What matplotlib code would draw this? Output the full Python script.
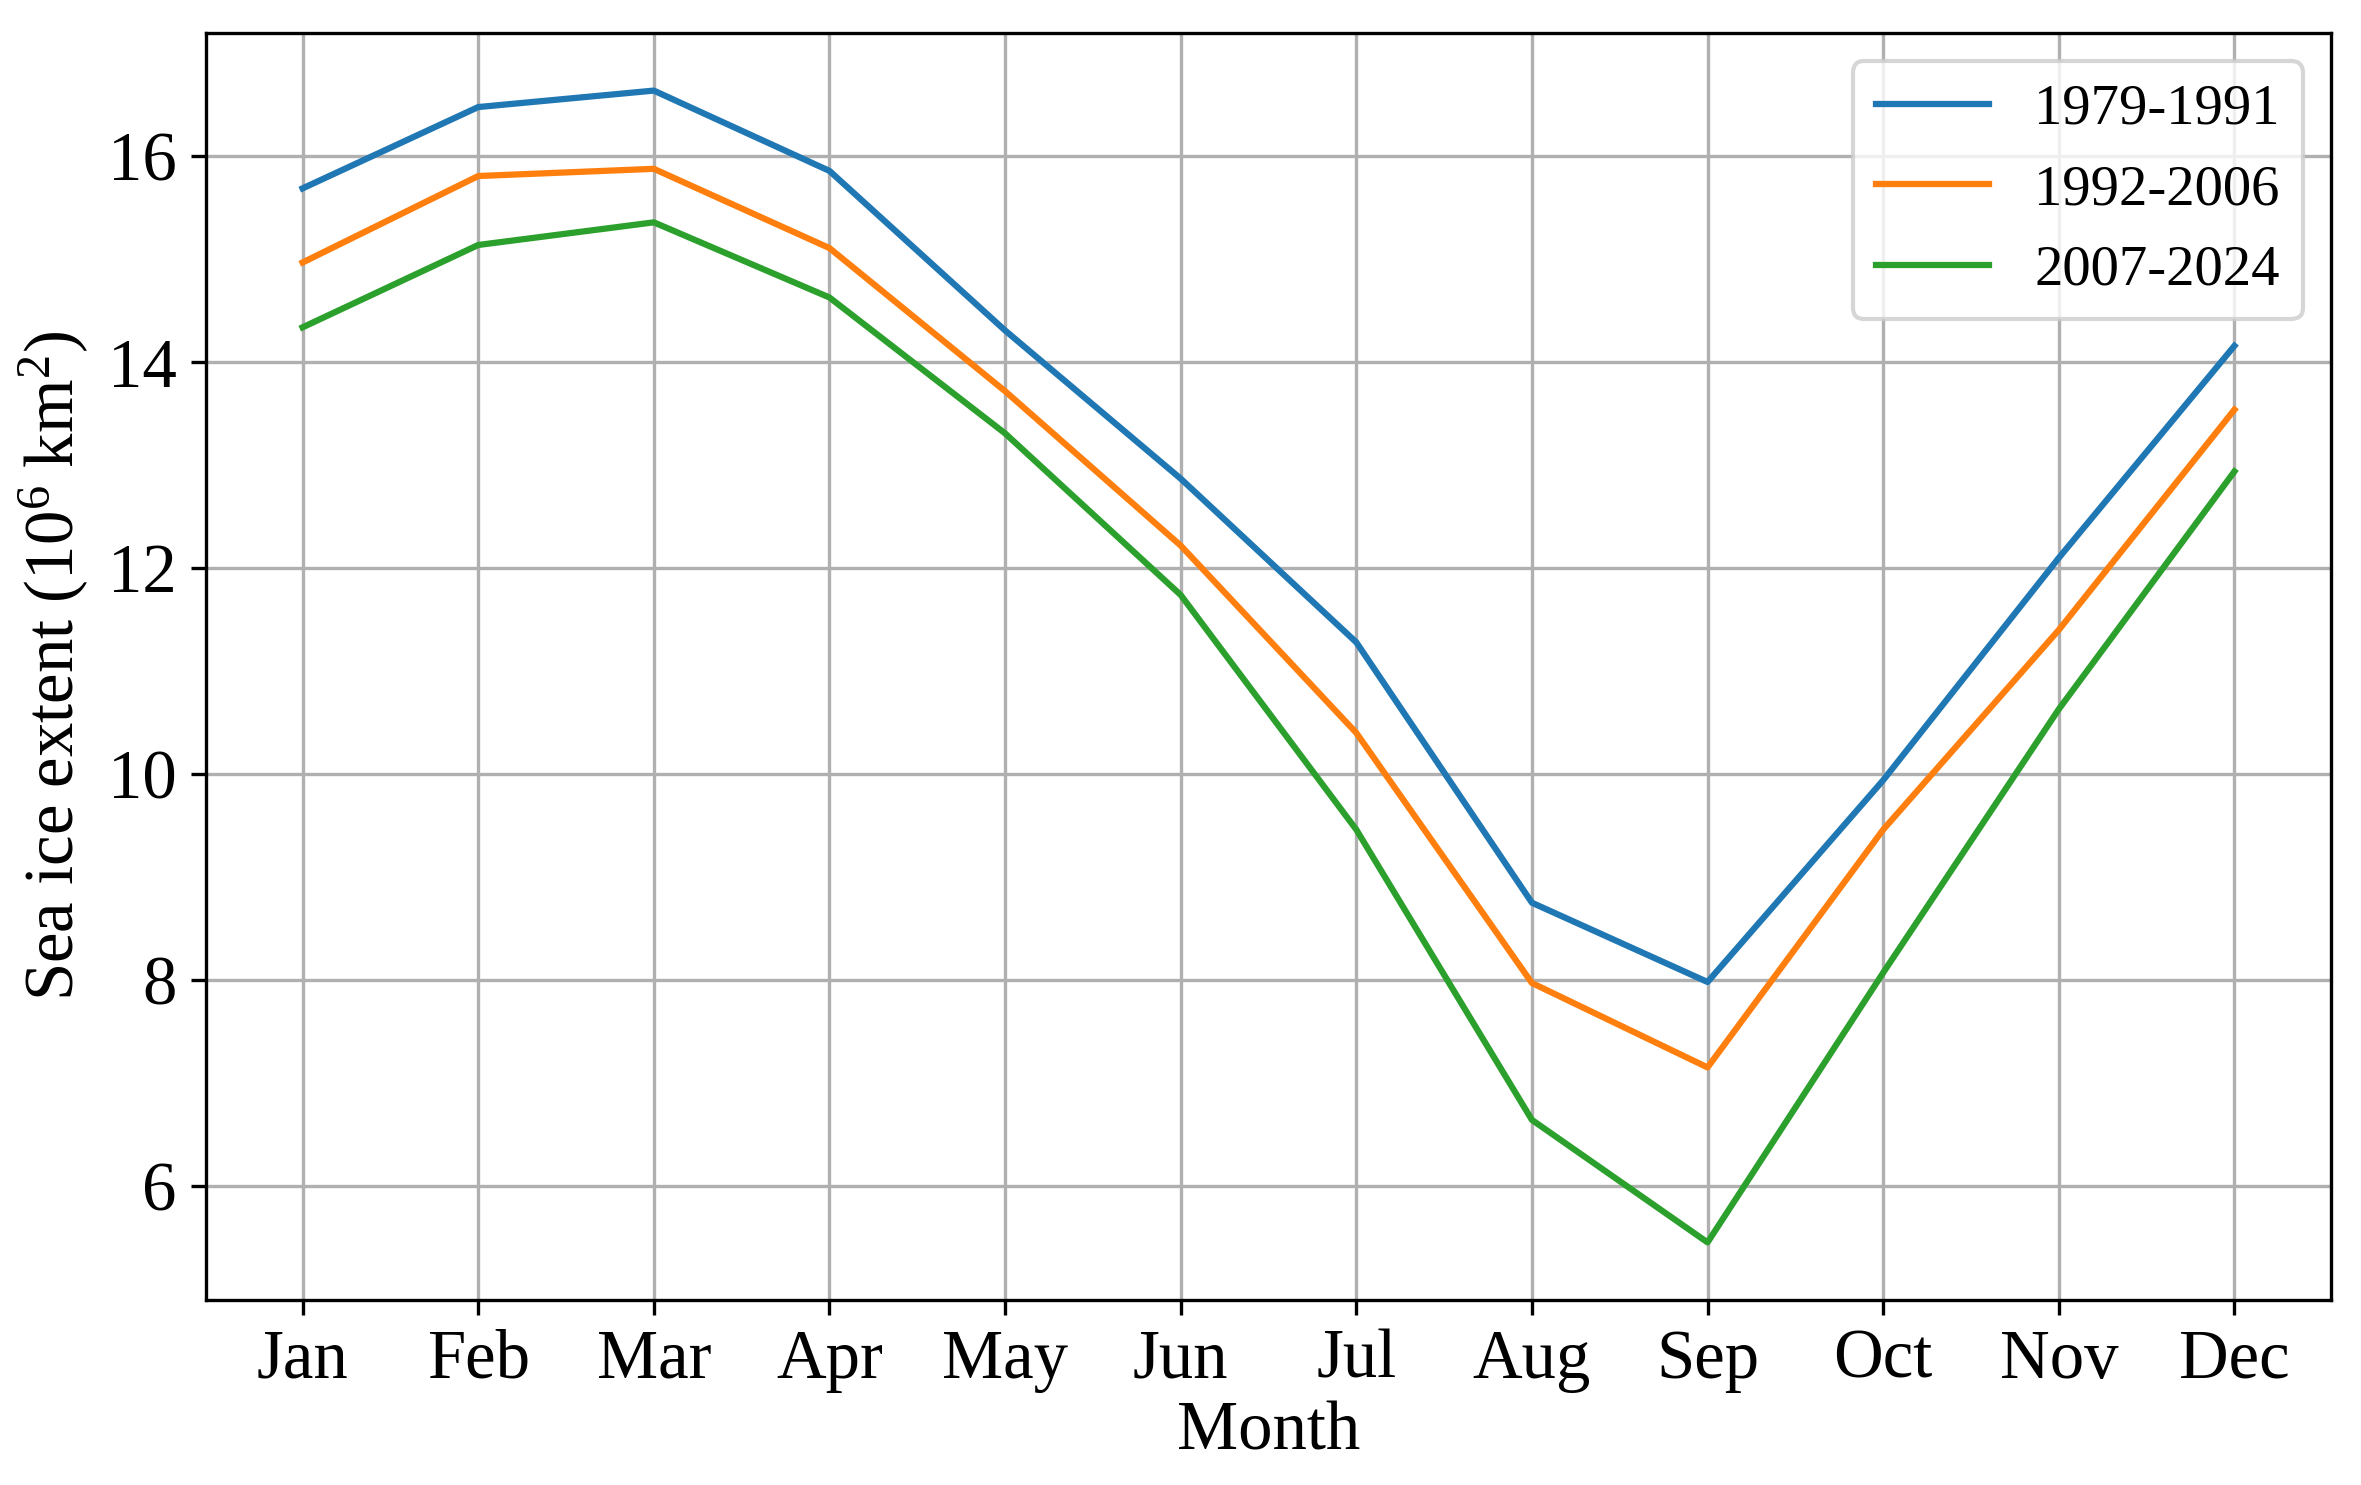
import matplotlib
matplotlib.use("Agg")
import matplotlib.pyplot as plt

months = ["Jan", "Feb", "Mar", "Apr", "May", "Jun", "Jul", "Aug", "Sep", "Oct", "Nov", "Dec"]
labels = ["1979-1991", "1992-2006", "2007-2024"]
ext_1979_1991 = [15.69, 16.48, 16.64, 15.86, 14.31, 12.87, 11.28, 8.75, 7.98, 9.94, 12.10, 14.16]
ext_1992_2006 = [14.97, 15.81, 15.88, 15.11, 13.72, 12.22, 10.40, 7.97, 7.15, 9.46, 11.40, 13.54]
ext_2007_2024 = [14.34, 15.14, 15.36, 14.63, 13.31, 11.74, 9.46, 6.64, 5.45, 8.07, 10.63, 12.94]

plt.rcParams['font.family'] = ['Liberation Serif', 'DejaVu Serif']
plt.rcParams['mathtext.fontset'] = 'custom'
plt.rcParams['mathtext.rm'] = 'Liberation Serif'
plt.rcParams['mathtext.it'] = 'Liberation Serif:italic'

W, H = 2361, 1485
fig = plt.figure(figsize=(W/300, H/300), dpi=300)
left, right = 206/W, 2331/W
top, bottom = 1 - 33/H, 1 - 1300/H
ax = fig.add_axes([left, bottom, right-left, top-bottom])

x = list(range(len(months)))
for series, lab in zip([ext_1979_1991, ext_1992_2006, ext_2007_2024], labels):
    ax.plot(x, series, label=lab, linewidth=1.5)

fs = 16.5
ax.set_xticks(x)
ax.set_xticklabels(months)
ax.tick_params(labelsize=fs)
ax.set_xlabel("Month", fontsize=fs, labelpad=2)
ax.set_ylabel(r"Sea ice extent (10$^{\mathrm{6}}$ km$^{\mathrm{2}}$)", fontsize=fs)
ax.grid(True, linewidth=0.8, color='#b0b0b0')
ax.legend(fontsize=13.6, loc='upper right')

fig.savefig("out.png", dpi=300)
